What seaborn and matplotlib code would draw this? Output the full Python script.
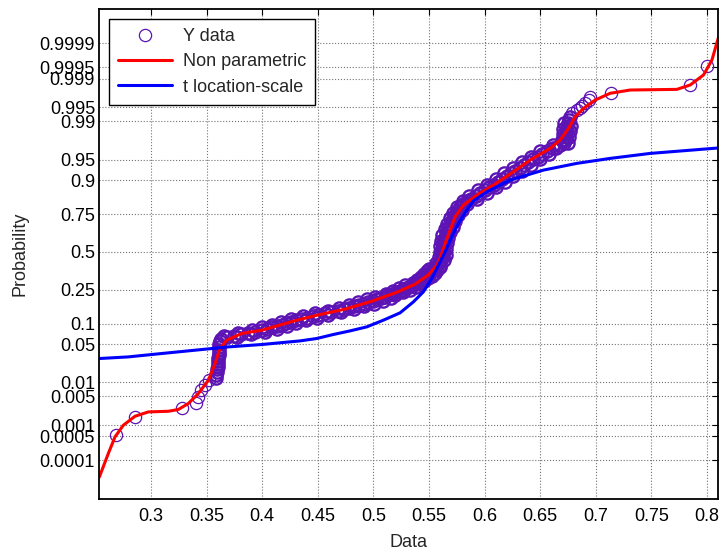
import math
import numpy as np
import seaborn as sns
import matplotlib
matplotlib.use("Agg")
import matplotlib.pyplot as plt

# Y data (sorted sample vs probability) in segments
# isolated points in the two tails
tail_lo_x = [0.2685, 0.2856, 0.3282, 0.3405, 0.3426, 0.3450, 0.3486, 0.3522]
tail_lo_p = [0.00053, 0.00161, 0.00267, 0.0034, 0.0048, 0.0068, 0.0087, 0.0110]
tail_hi_x = [0.6788, 0.6830, 0.6860, 0.6875, 0.6905, 0.6935, 0.6950, 0.7139,
             0.7850, 0.8000]
tail_hi_p = [0.9933, 0.9943, 0.9948, 0.9954, 0.9961, 0.9967, 0.9972, 0.9977,
             0.99855, 0.99954]

# dense part: jump near 0.36
lo_x = [0.3585, 0.3589, 0.3594, 0.3598, 0.3603, 0.3603, 0.3607, 0.3607,
        0.3612, 0.3612, 0.3612, 0.3616, 0.3616, 0.3621, 0.3630]
lo_p = [0.0122, 0.0139, 0.0158, 0.0179, 0.0202, 0.0228, 0.0256, 0.0287,
        0.0322, 0.0359, 0.0401, 0.0446, 0.0495, 0.0548, 0.0606]

mid_x = [0.3688, 0.3750, 0.3812, 0.3873, 0.3933, 0.3994, 0.4040, 0.4086,
         0.4132, 0.4176, 0.4218, 0.4261, 0.4304, 0.4353, 0.4404, 0.4454,
         0.4505, 0.4564, 0.4623, 0.4682, 0.4740, 0.4784, 0.4827, 0.4870,
         0.4912, 0.4954, 0.4996, 0.5031, 0.5066, 0.5101, 0.5136, 0.5171,
         0.5206, 0.5236, 0.5265, 0.5293, 0.5321, 0.5349, 0.5377, 0.5395,
         0.5413, 0.5431, 0.5449, 0.5468, 0.5486, 0.5499, 0.5510, 0.5522,
         0.5533, 0.5544, 0.5555]
# second row of points in the same band (the band is wider than one circle)
mid2_x = [0.3778, 0.3660, 0.3902, 0.3783, 0.4023, 0.3904, 0.4130, 0.3996,
          0.4222, 0.4086, 0.4308, 0.4171, 0.4394, 0.4263, 0.4494, 0.4364,
          0.4595, 0.4474, 0.4713, 0.4592, 0.4830, 0.4694, 0.4917, 0.4780,
          0.5002, 0.4864, 0.5086, 0.4941, 0.5156, 0.5011, 0.5196, 0.5111,
          0.5266, 0.5176, 0.5325, 0.5233, 0.5381, 0.5289, 0.5417, 0.5355,
          0.5453, 0.5391, 0.5489, 0.5428, 0.5526, 0.5459, 0.5550, 0.5482,
          0.5573, 0.5504, 0.5595]
mid_p = [0.0636, 0.0668, 0.0701, 0.0735, 0.0771, 0.0808, 0.0846, 0.0885,
         0.0926, 0.0968, 0.1011, 0.1056, 0.1103, 0.1151, 0.1200, 0.1251,
         0.1303, 0.1357, 0.1412, 0.1469, 0.1527, 0.1587, 0.1648, 0.1711,
         0.1775, 0.1841, 0.1908, 0.1977, 0.2047, 0.2119, 0.2192, 0.2266,
         0.2342, 0.2420, 0.2498, 0.2578, 0.2660, 0.2743, 0.2826, 0.2912,
         0.2998, 0.3085, 0.3174, 0.3264, 0.3354, 0.3446, 0.3538, 0.3632,
         0.3726, 0.3821, 0.3917]

hi_x = [0.5567, 0.5592, 0.5607, 0.5618, 0.5627, 0.5627, 0.5627, 0.5630,
        0.5633, 0.5637, 0.5644, 0.5651, 0.5661, 0.5672, 0.5683, 0.5693,
        0.5704, 0.5718, 0.5732, 0.5747, 0.5765, 0.5783, 0.5808, 0.5838,
        0.5876, 0.5921, 0.5963, 0.6003, 0.6043, 0.6084, 0.6122, 0.6160,
        0.6198, 0.6237, 0.6277, 0.6316, 0.6355, 0.6395, 0.6435, 0.6478,
        0.6519, 0.6561, 0.6612, 0.6677]
hi2_x = [0.5597, 0.5562, 0.5637, 0.5588, 0.5657, 0.5597, 0.5657, 0.5600,
         0.5663, 0.5607, 0.5674, 0.5621, 0.5691, 0.5642, 0.5713, 0.5663,
         0.5734, 0.5688, 0.5762, 0.5717, 0.5795, 0.5753, 0.5838, 0.5808,
         0.5936, 0.5861, 0.6023, 0.5943, 0.6103, 0.6024, 0.6182, 0.6100,
         0.6258, 0.6177, 0.6337, 0.6256, 0.6415, 0.6335, 0.6495, 0.6418,
         0.6579, 0.6501, 0.6642, 0.6617]
hi_p = [0.4013, 0.4207, 0.4404, 0.4602, 0.4801, 0.5000, 0.5199, 0.5398,
        0.5596, 0.5793, 0.5987, 0.6179, 0.6368, 0.6554, 0.6736, 0.6915,
        0.7088, 0.7257, 0.7422, 0.7580, 0.7734, 0.7881, 0.8023, 0.8159,
        0.8289, 0.8413, 0.8531, 0.8643, 0.8749, 0.8849, 0.8944, 0.9032,
        0.9115, 0.9192, 0.9265, 0.9332, 0.9394, 0.9452, 0.9505, 0.9554,
        0.9599, 0.9641, 0.9678, 0.9713]

# dense part: jump near 0.67
top_x = [0.6716, 0.6725, 0.6729, 0.6734, 0.6734, 0.6738, 0.6743, 0.6747,
         0.6756, 0.6765, 0.6746, 0.6695, 0.6759, 0.6704, 0.6764, 0.6708,
         0.6773, 0.6717]
top_p = [0.9744, 0.9772, 0.9798, 0.9821, 0.9842, 0.9861, 0.9878, 0.9893,
         0.9906, 0.9918, 0.9744, 0.9772, 0.9798, 0.9821, 0.9842, 0.9861,
         0.9878, 0.9893]

# Non parametric fit
np_x = [0.2535, 0.2616, 0.2676, 0.2751, 0.2856, 0.2976, 0.3156, 0.3246,
        0.3336, 0.3426, 0.3516, 0.3576, 0.3621, 0.3681, 0.3816, 0.3999,
        0.4296, 0.4494, 0.4745, 0.4988, 0.5213, 0.5375, 0.5492, 0.5564,
        0.5600, 0.5645, 0.5690, 0.5735, 0.5810, 0.5931, 0.6080, 0.6248,
        0.6410, 0.6590, 0.6680, 0.6755, 0.6815, 0.6890, 0.6995, 0.7130,
        0.7310, 0.7730, 0.7850, 0.7969, 0.8045, 0.8102]
np_p = [2.9e-5, 1.59e-4, 4.77e-4, 9.84e-4, 0.00167, 0.00214, 0.00222, 0.00245,
        0.00340, 0.00572, 0.01098, 0.02313, 0.04226, 0.0574, 0.0726, 0.0811,
        0.1096, 0.1292, 0.1532, 0.1894, 0.2358, 0.2820, 0.3387, 0.3994,
        0.453, 0.5596, 0.6508, 0.734, 0.798, 0.8444, 0.8832, 0.9213,
        0.9492, 0.9676, 0.9770, 0.98624, 0.99204, 0.99478, 0.99663, 0.99767,
        0.99806, 0.99813, 0.99855, 0.99920, 0.99969, 0.999932]

# t location-scale fit
tls_x = [0.2535, 0.2796, 0.3096, 0.3396, 0.3696, 0.3996, 0.4341, 0.4491,
         0.4640, 0.4791, 0.4941, 0.5090, 0.5240, 0.5360, 0.5450, 0.5526,
         0.5585, 0.5645, 0.5705, 0.5765, 0.5841, 0.5900, 0.6020, 0.6230,
         0.6530, 0.6830, 0.7130, 0.7490, 0.8119]
tls_p = [0.02846, 0.0304, 0.0348, 0.0396, 0.0449, 0.0491, 0.0560, 0.0610,
         0.0701, 0.0792, 0.0903, 0.1113, 0.1381, 0.1859, 0.2376, 0.3174,
         0.4061, 0.5000, 0.6056, 0.6939, 0.7718, 0.8180, 0.8579, 0.8997,
         0.9277, 0.9428, 0.9523, 0.9605, 0.9683]

xticks = [0.3, 0.35, 0.4, 0.45, 0.5, 0.55, 0.6, 0.65, 0.7, 0.75, 0.8]
xticklabels = ["0.3", "0.35", "0.4", "0.45", "0.5", "0.55", "0.6", "0.65",
               "0.7", "0.75", "0.8"]
yticks = [0.0001, 0.0005, 0.001, 0.005, 0.01, 0.05, 0.1, 0.25, 0.5, 0.75,
          0.9, 0.95, 0.99, 0.995, 0.999, 0.9995, 0.9999]
yticklabels = ["0.0001", "0.0005", "0.001", "0.005", "0.01", "0.05", "0.1",
               "0.25", "0.5", "0.75", "0.9", "0.95", "0.99", "0.995", "0.999",
               "0.9995", "0.9999"]


_erfc = np.vectorize(math.erfc, otypes=[float])


def norm_cdf(z):
    z = np.asarray(z, dtype=float)
    return 0.5 * _erfc(-z / math.sqrt(2.0))


def norm_ppf(p):
    p = np.clip(np.asarray(p, dtype=float), 1e-15, 1 - 1e-15)
    lo = np.full(p.shape, -9.0)
    hi = np.full(p.shape, 9.0)
    for _ in range(55):
        mid = 0.5 * (lo + hi)
        below = norm_cdf(mid) < p
        lo = np.where(below, mid, lo)
        hi = np.where(below, hi, mid)
    return 0.5 * (lo + hi)


sns.set_style("white")
plt.rcParams["font.family"] = ["Liberation Sans", "DejaVu Sans"]

fig = plt.figure(figsize=(7.2, 5.52), dpi=100)
ax = fig.add_axes([0.1379, 0.0955, 0.8597, 0.8877])

purple = "#5c14b4"
marker_kw = dict(estimator=None, sort=False, linestyle="none", marker="o",
                 markersize=8.8, markerfacecolor="none",
                 markeredgecolor=purple, color=purple)

# sparse points (thin rings) carry the legend entry
sns.lineplot(x=tail_lo_x + tail_hi_x, y=tail_lo_p + tail_hi_p, ax=ax,
             markeredgewidth=0.9, label="Y data", **marker_kw)
# crowded points overlap into a solid band
dense_x = lo_x + mid_x + mid2_x + hi_x + hi2_x + top_x
dense_p = lo_p + mid_p + mid_p + hi_p + hi_p + top_p
sns.lineplot(x=dense_x, y=dense_p, ax=ax, markeredgewidth=1.7,
             legend=False, **marker_kw)

sns.lineplot(x=np_x, y=np_p, ax=ax, estimator=None, sort=False,
             color="#ff0000", linewidth=2.2, label="Non parametric")
sns.lineplot(x=tls_x, y=tls_p, ax=ax, estimator=None, sort=False,
             color="#0000ff", linewidth=2.2, label="t location-scale")

ax.set_yscale("function", functions=(norm_ppf, norm_cdf))
ax.set_xlim(0.2535, 0.8102)
ax.set_ylim(5.03e-6, 0.9999925)
ax.set_xticks(xticks)
ax.set_xticklabels(xticklabels)
ax.set_yticks(yticks)
ax.set_yticklabels(yticklabels)
ax.minorticks_off()

ax.grid(True, color="0.45", linestyle=":", linewidth=0.8)
ax.tick_params(direction="in", top=True, right=True, length=4, width=0.8,
               labelsize=13, colors="black")
ax.tick_params(axis="y", pad=3)
ax.tick_params(axis="x", pad=6)
for s in ax.spines.values():
    s.set_color("black")
    s.set_linewidth(1.3)

ax.set_xlabel("Data", fontsize=13, labelpad=7)
ax.set_ylabel("Probability", fontsize=13, labelpad=8)

handles, labels = ax.get_legend_handles_labels()
leg = ax.legend(handles, labels, loc="upper left",
                bbox_to_anchor=(0.0157, 0.980), borderaxespad=0,
                fancybox=False, framealpha=1, edgecolor="black", fontsize=13,
                handlelength=3.0, handletextpad=0.6, labelspacing=0.46,
                borderpad=0.5)
leg.get_frame().set_linewidth(1.0)

fig.savefig("out.png", dpi=100)
